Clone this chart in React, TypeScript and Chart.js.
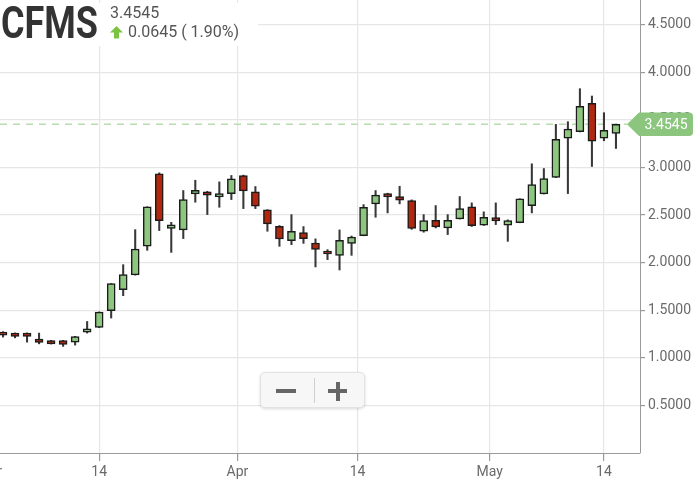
import React, { useEffect, useRef } from 'react';
import { Chart, registerables } from 'chart.js';

Chart.register(...registerables);

const symbol = 'CFMS';
const lastPrice = 3.4545;
const changeValue = 0.0645;
const changePct = 1.9;

const opens = [
  1.270, 1.260, 1.260, 1.197, 1.182, 1.182, 1.165, 1.270, 1.319, 1.495,
  1.716, 1.871, 2.172, 2.934, 2.361, 2.344, 2.723, 2.744, 2.691, 2.726,
  2.916, 2.744, 2.555, 2.382, 2.232, 2.316, 2.207, 2.123, 2.077, 2.203,
  2.284, 2.618, 2.726, 2.695, 2.653, 2.330, 2.445, 2.365, 2.460, 2.586,
  2.393, 2.474, 2.393, 2.421, 2.600, 2.723, 2.895, 3.308, 3.376, 3.674,
  3.308, 3.358,
];
const highs = [
  1.275, 1.262, 1.262, 1.260, 1.184, 1.184, 1.226, 1.382, 1.483, 1.781,
  1.979, 2.347, 2.588, 2.944, 2.424, 2.758, 2.866, 2.750, 2.849, 2.916,
  2.920, 2.800, 2.557, 2.390, 2.505, 2.379, 2.250, 2.137, 2.344, 2.280,
  2.610, 2.758, 2.730, 2.803, 2.660, 2.505, 2.600, 2.505, 2.695, 2.628,
  2.534, 2.628, 2.450, 2.672, 3.039, 2.989, 3.453, 3.481, 3.828, 3.751,
  3.576, 3.456,
];
const lows = [
  1.218, 1.210, 1.165, 1.147, 1.145, 1.120, 1.134, 1.260, 1.317, 1.418,
  1.653, 1.869, 2.130, 2.337, 2.108, 2.253, 2.635, 2.505, 2.582, 2.663,
  2.568, 2.568, 2.330, 2.172, 2.189, 2.203, 1.955, 2.032, 1.923, 2.077,
  2.282, 2.477, 2.523, 2.618, 2.350, 2.320, 2.365, 2.295, 2.458, 2.380,
  2.391, 2.400, 2.224, 2.419, 2.523, 2.721, 2.893, 2.726, 3.374, 3.011,
  3.281, 3.200,
];
const closes = [
  1.239, 1.224, 1.224, 1.161, 1.147, 1.140, 1.224, 1.305, 1.481, 1.779,
  1.874, 2.144, 2.586, 2.442, 2.397, 2.663, 2.761, 2.709, 2.726, 2.881,
  2.755, 2.593, 2.407, 2.249, 2.330, 2.253, 2.140, 2.092, 2.235, 2.270,
  2.582, 2.709, 2.691, 2.656, 2.361, 2.442, 2.376, 2.445, 2.568, 2.389,
  2.477, 2.439, 2.442, 2.670, 2.821, 2.884, 3.295, 3.403, 3.642, 3.277,
  3.390, 3.4545,
];

const xTickPositions = [-1.1, 8, 19.5, 29.5, 40.5, 50];
const xTickLabels = ['Mar', '14', 'Apr', '14', 'May', '14'];
const yTickValues = [0.5, 1.0, 1.5, 2.0, 2.5, 3.0, 3.5, 4.0, 4.5];

const GREEN = '#8cc67f';
const RED = '#b3270f';
const LABEL_GREEN = '#8cc67e';

export default function App() {
  const ref = useRef<HTMLCanvasElement>(null);

  useEffect(() => {
    const idx = opens.map((_, i) => i);
    const up = idx.map((i) => closes[i] >= opens[i]);

    const priceLinePlugin = {
      id: 'priceLine',
      beforeDatasetsDraw(chart: any) {
        const { ctx, chartArea } = chart;
        const y = chart.scales.y.getPixelForValue(lastPrice);
        ctx.save();
        ctx.strokeStyle = '#b8dcae';
        ctx.lineWidth = 1.3;
        ctx.setLineDash([7, 6]);
        ctx.beginPath();
        ctx.moveTo(chartArea.left, y);
        ctx.lineTo(chartArea.right - 13, y);
        ctx.stroke();
        ctx.restore();
      },
      afterDraw(chart: any) {
        const { ctx, chartArea } = chart;
        const y = chart.scales.y.getPixelForValue(lastPrice);
        const r = chartArea.right;
        const h = 11.7;
        const right = r + 53;
        const rad = 4;
        ctx.save();
        ctx.fillStyle = LABEL_GREEN;
        ctx.beginPath();
        ctx.moveTo(r - 13, y);
        ctx.lineTo(r - 1, y - h);
        ctx.lineTo(right - rad, y - h);
        ctx.quadraticCurveTo(right, y - h, right, y - h + rad);
        ctx.lineTo(right, y + h - rad);
        ctx.quadraticCurveTo(right, y + h, right - rad, y + h);
        ctx.lineTo(r - 1, y + h);
        ctx.closePath();
        ctx.fill();
        ctx.fillStyle = '#ffffff';
        ctx.font = '14px Roboto';
        ctx.textAlign = 'center';
        ctx.textBaseline = 'middle';
        ctx.fillText(lastPrice.toFixed(4), r + 26, y + 1);
        ctx.restore();
      },
    };

    const chart = new Chart(ref.current!, {
      type: 'bar',
      data: {
        datasets: [
          {
            label: 'body',
            data: idx.map((i) => ({ x: i, y: [opens[i], closes[i]] })) as any,
            backgroundColor: up.map((u) => (u ? GREEN : RED)),
            borderColor: '#1b1b1b',
            borderWidth: 1.5,
            borderSkipped: false,
            barThickness: 8,
            grouped: false,
            order: 0,
          } as any,
          {
            label: 'wick',
            data: idx.map((i) => ({ x: i, y: [lows[i], highs[i]] })) as any,
            backgroundColor: '#383838',
            borderWidth: 0,
            barThickness: 1.4,
            grouped: false,
            order: 1,
          } as any,
        ],
      },
      options: {
        animation: false,
        responsive: true,
        maintainAspectRatio: false,
        layout: { padding: 0 },
        plugins: {
          legend: { display: false },
          tooltip: { enabled: false },
        },
        scales: {
          x: {
            type: 'linear',
            min: -0.25,
            max: 53,
            offset: false,
            grid: {
              offset: false,
              color: '#e6e6e6',
              lineWidth: 1.2,
              drawTicks: true,
              tickLength: 8,
              tickColor: '#9a9a9a',
            },
            border: { display: true, color: '#9a9a9a', width: 1 },
            ticks: {
              autoSkip: false,
              maxRotation: 0,
              padding: 3,
              color: '#6a6a6a',
              font: { family: 'Roboto', size: 14 },
              callback: (v: any) => {
                const k = xTickPositions.indexOf(Number(v));
                return k >= 0 ? xTickLabels[k] : '';
              },
            },
            afterBuildTicks: (scale: any) => {
              scale.ticks = xTickPositions.map((v) => ({ value: v }));
            },
            afterFit: (scale: any) => {
              scale.height = 30;
              scale.paddingLeft = 0;
              scale.paddingRight = 0;
            },
          } as any,
          y: {
            type: 'linear',
            position: 'right',
            min: 0,
            max: 4.76,
            grid: {
              color: '#e6e6e6',
              lineWidth: 1.2,
              drawTicks: true,
              tickLength: 5,
              tickColor: '#9a9a9a',
            },
            border: { display: true, color: '#9a9a9a', width: 1 },
            ticks: {
              padding: 3,
              color: '#6a6a6a',
              font: { family: 'Roboto', size: 14 },
              callback: (v: any) => Number(v).toFixed(4),
            },
            afterBuildTicks: (scale: any) => {
              scale.ticks = yTickValues.map((v) => ({ value: v }));
            },
            afterFit: (scale: any) => {
              scale.width = 56;
              scale.paddingTop = 0;
              scale.paddingBottom = 0;
            },
          } as any,
        },
      },
      plugins: [priceLinePlugin],
    });
    return () => chart.destroy();
  }, []);

  return (
    <div style={{ position: 'absolute', left: 0, top: 0, width: 696, height: 483, overflow: 'hidden', background: '#fff' }}>
      <div style={{ position: 'absolute', left: 0, top: 0, width: 696, height: 483 }}>
        <canvas ref={ref} />
      </div>
      <div style={{ position: 'absolute', left: 0, top: 3, width: 258, height: 43, background: '#fff' }} />
      <div
        style={{
          position: 'absolute',
          left: 1,
          top: 0,
          font: 'bold 45px Roboto',
          lineHeight: '45px',
          color: '#333',
          transform: 'scaleX(0.8)',
          transformOrigin: 'left top',
          whiteSpace: 'nowrap',
        }}
      >
        {symbol}
      </div>
      <div style={{ position: 'absolute', left: 110, top: 5, font: '16px Roboto', lineHeight: '16px', color: '#555', whiteSpace: 'nowrap' }}>
        {lastPrice.toFixed(4)}
      </div>
      <svg style={{ position: 'absolute', left: 110, top: 26 }} width={14} height={13} viewBox="0 0 14 13">
        <polygon points="6.5,0 13,6.5 9,6.5 9,12.5 4,12.5 4,6.5 0,6.5" fill="#7cc242" />
      </svg>
      <div style={{ position: 'absolute', left: 128, top: 23.5, font: '16px Roboto', lineHeight: '16px', color: '#555', whiteSpace: 'nowrap' }}>
        {changeValue.toFixed(4)} ( {changePct.toFixed(2)}%)
      </div>
      <div
        style={{
          position: 'absolute',
          left: 260,
          top: 372,
          width: 105,
          height: 36,
          boxSizing: 'border-box',
          background: '#f7f7f7',
          border: '1px solid #e2e2e2',
          borderRadius: 5,
          boxShadow: '0 1px 3px rgba(0,0,0,0.15)',
        }}
      >
        <div style={{ position: 'absolute', left: 15, top: 16, width: 20, height: 4, background: '#666' }} />
        <div style={{ position: 'absolute', left: 53, top: 5, width: 1, height: 25, background: '#cfcfcf' }} />
        <div style={{ position: 'absolute', left: 67, top: 16, width: 19, height: 4, background: '#666' }} />
        <div style={{ position: 'absolute', left: 74.5, top: 8.5, width: 4, height: 19, background: '#666' }} />
      </div>
    </div>
  );
}
